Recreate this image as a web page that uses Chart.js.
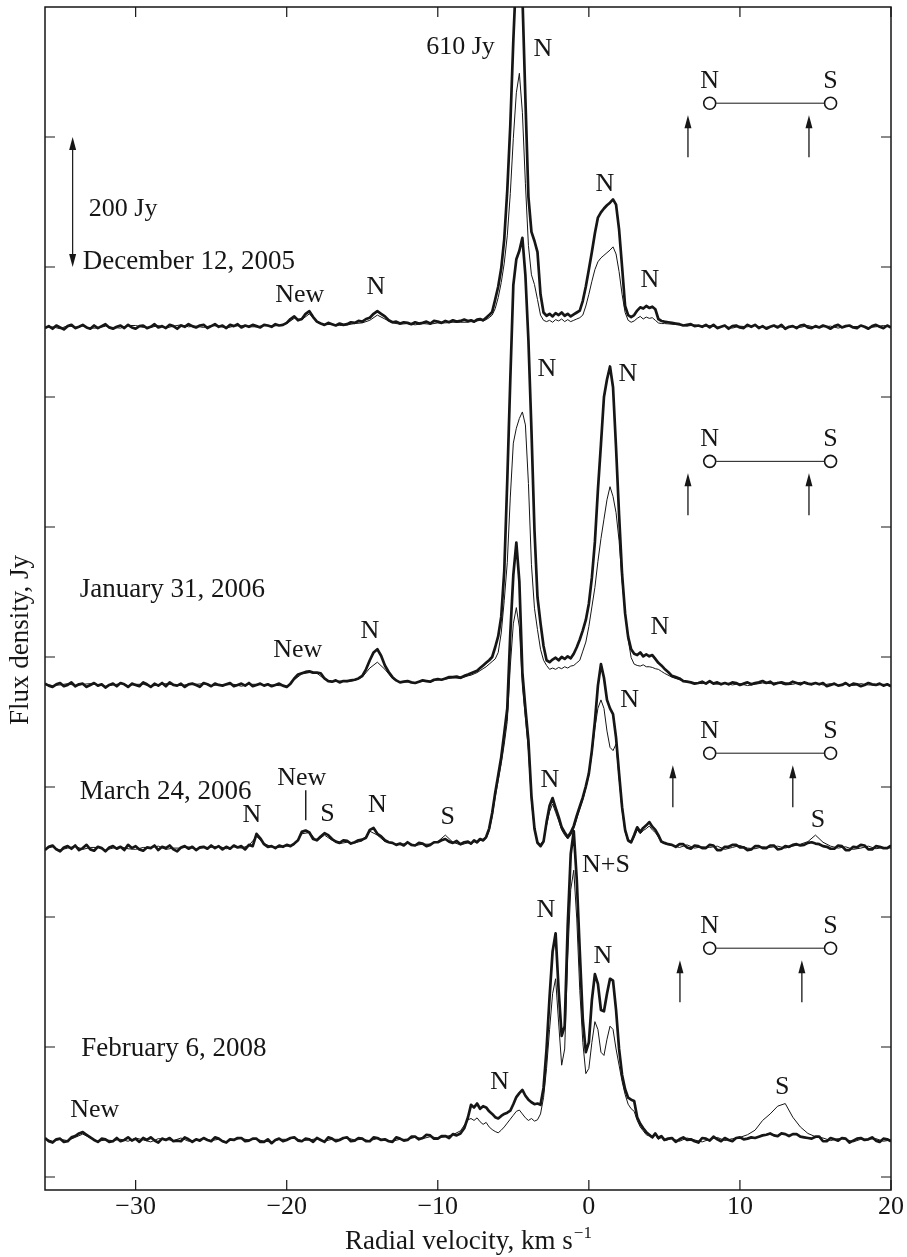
<!DOCTYPE html>
<html lang="en">
<head>
  <meta charset="UTF-8">
  <title>Water maser spectra</title>
  <script src="https://cdn.jsdelivr.net/npm/chart.js@4.4.1/dist/chart.umd.min.js"></script>
  <style>
    html, body { margin: 0; padding: 0; background: #fff; }
    #chart { display: block; }
  </style>
</head>
<body>
  <canvas id="chart" width="907" height="1257"></canvas>
  <script>
    // velocity grid for the thick traces, km/s (0.25 on the wings, 0.2 across the core)
    const velocityFine = [
      -36, -35.75, -35.5, -35.25, -35, -34.75, -34.5, -34.25,
      -34, -33.75, -33.5, -33.25, -33, -32.75, -32.5, -32.25,
      -32, -31.75, -31.5, -31.25, -31, -30.75, -30.5, -30.25,
      -30, -29.75, -29.5, -29.25, -29, -28.75, -28.5, -28.25,
      -28, -27.75, -27.5, -27.25, -27, -26.75, -26.5, -26.25,
      -26, -25.75, -25.5, -25.25, -25, -24.75, -24.5, -24.25,
      -24, -23.75, -23.5, -23.25, -23, -22.75, -22.5, -22.25,
      -22, -21.75, -21.5, -21.25, -21, -20.75, -20.5, -20.25,
      -20, -19.75, -19.5, -19.25, -19, -18.75, -18.5, -18.25,
      -18, -17.75, -17.5, -17.25, -17, -16.75, -16.5, -16.25,
      -16, -15.75, -15.5, -15.25, -15, -14.75, -14.5, -14.25,
      -14, -13.75, -13.5, -13.25, -13, -12.75, -12.5, -12.25,
      -12, -11.75, -11.5, -11.25, -11, -10.75, -10.5, -10.25,
      -10, -9.75, -9.5, -9.25, -9, -8.75, -8.5, -8.25,
      -8, -7.8, -7.6, -7.4, -7.2, -7, -6.8, -6.6, -6.4, -6.2,
      -6, -5.8, -5.6, -5.4, -5.2, -5, -4.8, -4.6, -4.4, -4.2,
      -4, -3.8, -3.6, -3.4, -3.2, -3, -2.8, -2.6, -2.4, -2.2,
      -2, -1.8, -1.6, -1.4, -1.2, -1, -0.8, -0.6, -0.4, -0.2,
      0, 0.2, 0.4, 0.6, 0.8, 1, 1.2, 1.4, 1.6, 1.8,
      2, 2.2, 2.4, 2.6, 2.8, 3, 3.2, 3.4, 3.6, 3.8,
      4, 4.2, 4.4, 4.6, 4.8, 5,
      5.25, 5.5, 5.75, 6, 6.25, 6.5, 6.75, 7,
      7.25, 7.5, 7.75, 8, 8.25, 8.5, 8.75, 9,
      9.25, 9.5, 9.75, 10, 10.25, 10.5, 10.75, 11,
      11.25, 11.5, 11.75, 12, 12.25, 12.5, 12.75, 13,
      13.25, 13.5, 13.75, 14, 14.25, 14.5, 14.75, 15,
      15.25, 15.5, 15.75, 16, 16.25, 16.5, 16.75, 17,
      17.25, 17.5, 17.75, 18, 18.25, 18.5, 18.75, 19,
      19.25, 19.5, 19.75, 20
    ];

    // velocity grid for the thin traces, km/s
    const velocityCoarse = [
      -36, -35.5, -35, -34.5, -34, -33.5, -33, -32.5, -32, -31.5,
      -31, -30.5, -30, -29.5, -29, -28.5, -28, -27.5, -27, -26.5,
      -26, -25.5, -25, -24.5, -24, -23.5, -23, -22.5, -22, -21.5,
      -21, -20.5, -20, -19.5, -19, -18.5, -18, -17.5, -17, -16.5,
      -16, -15.5, -15, -14.5, -14, -13.5, -13, -12.5, -12, -11.5,
      -11, -10.5, -10, -9.5, -9, -8.5,
      -8, -7.8, -7.6, -7.4, -7.2, -7, -6.8, -6.6, -6.4, -6.2,
      -6, -5.8, -5.6, -5.4, -5.2, -5, -4.8, -4.6, -4.4, -4.2,
      -4, -3.8, -3.6, -3.4, -3.2, -3, -2.8, -2.6, -2.4, -2.2,
      -2, -1.8, -1.6, -1.4, -1.2, -1, -0.8, -0.6, -0.4, -0.2,
      0, 0.2, 0.4, 0.6, 0.8, 1, 1.2, 1.4, 1.6, 1.8,
      2, 2.2, 2.4, 2.6, 2.8, 3, 3.2, 3.4, 3.6, 3.8,
      4, 4.2, 4.4, 4.6, 4.8, 5,
      5.5, 6, 6.5, 7, 7.5, 8, 8.5, 9, 9.5, 10,
      10.5, 11, 11.5, 12, 12.5, 13, 13.5, 14, 14.5, 15,
      15.5, 16, 16.5, 17, 17.5, 18, 18.5, 19, 19.5, 20
    ];

    // flux density, Jy -- thick traces on velocityFine
    const dec05Thick = [
      -2, 1, -3, 2, -1, -4, 1, 3,
      -2, 0, 3, -1, -3, 2, -2, 1,
      4, -1, -3, 0, 2, -2, 3, -1,
      -3, 1, 2, -2, 0, 4, -1, 1,
      -2, 3, 1, -3, 2, 0, 4, 1,
      -1, 2, 3, -2, 1, 4, 0, 2,
      -2, 3, 1, 4, -1, 2, 0, 3,
      1, -1, 3, 2, 0, 4, 2, 3,
      6, 12, 16, 10, 12, 20, 24, 15,
      8, 5, 3, 6, 4, 2, 5, 3,
      4, 7, 6, 9, 8, 12, 14, 20,
      24, 20, 16, 10, 7, 8, 5, 7,
      6, 4, 7, 5, 6, 8, 5, 9,
      8, 6, 9, 7, 10, 8, 9, 11,
      9, 10, 8, 11, 12, 10, 14, 18, 23, 42,
      62, 90, 135, 210, 310, 440, 550, 610, 510, 350,
      200, 146, 132, 115, 50, 22, 17, 20, 16, 21,
      18, 22, 17, 20, 16, 19, 22, 25, 40, 62,
      88, 115, 144, 168, 176, 182, 187, 191, 196, 188,
      150, 92, 32, 18, 15, 18, 25, 30, 28, 32,
      29, 31, 27, 12, 9, 8,
      7, 6, 5, 4, 2, 3, 4, 1,
      2, 0, 3, -1, 3, -2, 0, 2,
      -3, 1, 2, -1, -2, 3, 0, 3,
      -2, 1, -3, 0, 2, -1, 3, -3,
      0, 1, -2, 2, 3, -1, -2, 1,
      -1, 2, 0, -3, 1, 3, -1, 1,
      2, -1, -2, 2, 0, -3, 1, 3,
      0, -2, 2, -1
    ];
    const jan06Thick = [
      2, -1, -3, 1, 3, -2, 0, 4,
      -2, 1, 2, -3, 0, 3, -1, 1,
      -4, 0, 2, -2, 3, 1, -3, 2,
      0, -2, 4, 1, -3, 2, -1, 3,
      -2, 4, 0, -1, 2, -3, 1, 2,
      0, -3, 3, 1, -2, 2, 0, -1,
      1, 3, -2, 0, 2, -1, 3, -2,
      0, 2, -1, 1, -2, 0, 2, -1,
      -3, 2, 10, 16, 18, 20, 21, 19,
      19, 18, 10, 6, 5, 7, 4, 6,
      6, 7, 8, 10, 14, 24, 38, 50,
      55, 45, 30, 20, 12, 7, 4, 5,
      6, 4, 3, 5, 7, 6, 5, 8,
      9, 8, 10, 12, 12, 13, 11, 14,
      16, 18, 20, 22, 26, 30, 34, 38, 43, 58,
      75, 105, 175, 315, 470, 615, 655, 668, 688, 630,
      530, 392, 238, 135, 95, 60, 38, 35, 39, 42,
      38, 43, 40, 44, 41, 48, 58, 70, 84, 100,
      125, 165, 220, 300, 370, 443, 470, 490, 458, 365,
      262, 170, 110, 74, 55, 48, 46, 50, 44, 47,
      44, 46, 40, 34, 30, 25,
      20, 14, 12, 10, 6, 5, 4, 2,
      3, 5, 2, 6, 2, 4, 1, 3,
      1, 4, 3, 0, 2, 4, 1, 3,
      4, 6, 3, 5, 1, 3, 4, 2,
      2, 5, 3, 1, 4, 2, 1, 3,
      1, 3, -2, 0, 2, -1, 0, 3,
      -1, 2, 1, -2, 0, 3, 1, 0,
      2, -1, 1, -2
    ];
    const mar06Thick = [
      -3, 2, 4, -2, -5, 1, 3, -1,
      4, -3, 0, 5, -2, -4, 2, 0,
      -5, 1, 3, -1, 2, -3, 5, 0,
      3, -2, -4, 1, 0, 4, -3, 2,
      0, 4, -2, -5, 1, 3, -1, 2,
      -3, 1, 2, -1, 4, 0, 3, -2,
      2, -1, 4, 1, 3, -2, 5, 3,
      22, 15, 6, 2, 3, 0, 4, 2,
      5, 3, 7, 12, 25, 27, 24, 14,
      12, 18, 23, 20, 14, 10, 8, 12,
      11, 7, 9, 12, 13, 16, 28, 31,
      22, 18, 12, 9, 8, 5, 7, 4,
      9, 5, 4, 8, 7, 3, 5, 9,
      9, 12, 14, 10, 8, 11, 6, 9,
      10, 7, 12, 9, 14, 12, 17, 30, 54, 85,
      112, 140, 177, 215, 330, 420, 470, 410, 270, 215,
      165, 80, 30, 8, 3, 10, 40, 65, 77, 62,
      48, 32, 24, 17, 24, 34, 50, 64, 78, 95,
      115, 150, 195, 250, 283, 262, 228, 215, 206, 170,
      115, 63, 28, 12, 9, 20, 32, 25, 31, 35,
      40, 33, 28, 20, 10, 8,
      6, 5, 2, 6, 6, 1, -1, 4,
      3, 0, 0, 5, 4, -3, -3, 2,
      2, 5, 5, 1, 1, -3, -2, 3,
      3, 0, 0, 4, 4, -2, -1, 3,
      2, 5, 6, 4, 5, 8, 9, 7,
      6, 3, 2, -1, -1, 4, 3, -3,
      -3, 2, 1, 5, 4, -2, -2, 3,
      2, 0, 0, 4
    ];
    const feb08Thick = [
      3, -2, -4, 1, 2, -3, -2, 4,
      6, 10, 12, 8, 4, 0, -3, 2,
      1, -3, -2, 3, -2, 0, 4, -1,
      2, -3, 3, 0, 4, -1, -4, 2,
      0, 3, -2, -1, -2, 4, 1, -3,
      1, -1, 3, 0, -2, 4, 2, -2,
      -4, 1, 0, 3, 3, -2, -1, 2,
      2, -3, -3, 1, -5, 0, 2, -2,
      0, 3, 4, -1, -2, 2, 1, -3,
      3, 0, -3, 4, 2, -2, 0, 3,
      4, -2, -1, 3, 2, -2, -2, 4,
      3, 0, 1, -2, -3, 4, 2, -1,
      0, 5, 5, 1, 3, 8, 7, 2,
      2, 6, 6, 3, 9, 7, 10, 18,
      35, 54, 50, 56, 48, 52, 50, 44, 40, 35,
      33, 37, 40, 42, 45, 55, 66, 72, 77, 68,
      62, 58, 55, 56, 54, 80, 140, 220, 290, 318,
      230, 160, 175, 330, 440, 475, 400, 290, 185, 135,
      150, 215, 255, 240, 200, 198, 225, 248, 245, 200,
      140, 100, 78, 65, 62, 60, 35, 25, 18, 12,
      8, 4, 10, 3, 6, 0,
      2, 3, -3, 1, 4, 0, 1, -2,
      -4, 3, 2, -1, 5, 1, -2, 3,
      0, -2, 3, 4, 1, 2, 4, 3,
      5, 7, 8, 10, 7, 6, 10, 9,
      6, 9, 9, 5, 4, 3, 2, 5,
      5, -2, -2, 3, 1, -1, 3, 2,
      -4, -1, 2, 3, 0, 1, 4, -1,
      -3, 2, 1, -2
    ];

    // flux density, Jy -- thin traces on velocityCoarse
    const dec05Thin = [
      -1, 0, -3, 2, -1, 1, -2, -2, 1, -1,
      -2, 2, 2, -1, -1, 2, -2, 1, 3, 0,
      1, -1, 2, 1, -2, 1, 2, 0, 0, 2,
      1, 2, 5, 13, 11, 20, 7, 3, 4, 2,
      3, 5, 6, 10, 18, 12, 6, 4, 5, 3,
      5, 4, 6, 6, 7, 7,
      7, 8, 7, 9, 10, 9, 11, 14, 18, 28,
      45, 68, 98, 140, 205, 290, 360, 390, 330, 220,
      125, 80, 65, 42, 18, 10, 8, 10, 7, 11,
      9, 12, 8, 11, 8, 10, 12, 14, 18, 32,
      50, 70, 88, 100, 106, 110, 114, 118, 123, 112,
      85, 50, 22, 10, 7, 9, 13, 16, 12, 15,
      13, 14, 10, 6, 5, 5,
      4, 3, 1, 3, 0, 2, -1, 1, -2, 1,
      0, 2, -1, 0, 1, -2, 1, -1, 2, -1,
      0, 1, -2, 1, 0, 1, -1, 0, 2, 0
    ];
    const jan06Thin = [
      1, -1, 0, 2, -1, 1, 2, 0, -2, 0,
      2, -1, 1, 1, -2, 0, 2, 0, -1, 1,
      1, 2, -1, 0, 0, 1, -2, 1, 1, 0,
      0, -1, -2, 8, 17, 19, 18, 9, 5, 6,
      5, 7, 12, 26, 35, 24, 10, 4, 5, 3,
      6, 5, 8, 9, 11, 10,
      14, 15, 17, 19, 22, 25, 28, 32, 36, 40,
      50, 80, 130, 188, 289, 372, 395, 410, 420, 400,
      310, 185, 118, 85, 55, 38, 30, 24, 26, 24,
      27, 25, 28, 26, 29, 30, 34, 38, 52, 66,
      90, 120, 150, 190, 225, 255, 285, 305, 290, 265,
      222, 160, 111, 70, 42, 32, 30, 29, 31, 28,
      28, 27, 25, 24, 21, 18,
      12, 8, 5, 3, 2, 4, 1, 3, 0, 2,
      -1, 1, 3, 2, 4, 0, 1, 4, 2, 3,
      0, 2, -1, 1, -1, 2, 0, 0, 1, -1
    ];
    const mar06Thin = [
      -1, 2, -3, 0, 3, -2, 1, 1, -3, 0,
      2, -1, -2, 1, 1, 3, -2, 0, 0, 2,
      -2, 1, 1, 3, -1, 2, 0, 4, 18, 7,
      2, 1, 3, 5, 22, 24, 11, 20, 12, 7,
      9, 8, 11, 26, 20, 10, 7, 5, 8, 4,
      6, 6, 10, 20, 9, 5,
      8, 6, 10, 8, 12, 11, 15, 26, 48, 78,
      104, 130, 160, 195, 280, 345, 370, 340, 250, 200,
      150, 72, 28, 10, 6, 12, 35, 56, 68, 55,
      42, 28, 20, 14, 20, 30, 45, 60, 74, 92,
      112, 145, 185, 215, 228, 215, 180, 155, 150, 160,
      108, 58, 25, 10, 8, 17, 28, 22, 27, 30,
      34, 28, 24, 17, 9, 7,
      4, 1, 5, 0, 2, 1, 3, -2, 1, 4,
      0, -1, 2, 1, 3, 0, 3, 6, 10, 20,
      9, 3, 0, 2, -2, 0, 3, -1, 1, 0
    ];
    const feb08Thin = [
      2, -2, 1, -1, 4, 9, 3, -2, 0, -1,
      1, -2, 3, 0, -3, 2, 1, -1, 3, -2,
      0, 2, -1, 1, -3, 1, 2, 0, 1, -2,
      -3, 1, 1, 3, -1, 0, 2, -2, 1, 1,
      3, 0, 1, -1, 2, 0, -2, 1, 1, 4,
      2, 5, 3, 5, 8, 14,
      31, 33, 30, 34, 28, 24, 27, 20, 16, 13,
      11, 15, 20, 26, 32, 38, 44, 46, 40, 34,
      30, 33, 29, 31, 40, 65, 110, 170, 225, 248,
      180, 115, 140, 280, 385, 415, 340, 230, 150, 102,
      110, 150, 182, 170, 135, 130, 155, 175, 170, 140,
      115, 90, 70, 55, 48, 44, 30, 20, 14, 8,
      6, 3, 8, 1, 4, -1,
      2, -2, 3, 0, -3, 1, 4, -1, 2, 4,
      8, 15, 30, 40, 52, 56, 35, 20, 10, 5,
      3, -1, 2, 1, -3, 1, 1, 2, -2, 0
    ];

    // vertical shift of each spectrum, Jy
    const epochs = ['December 12, 2005', 'January 31, 2006', 'March 24, 2006', 'February 6, 2008'];
    const offsets = [1308, 757, 506, 57];
    const thickSeries = [dec05Thick, jan06Thick, mar06Thick, feb08Thick];
    const thinSeries = [dec05Thin, jan06Thin, mar06Thin, feb08Thin];

    const xTicks = [-30, -20, -10, 0, 10, 20];
    const yTicks = [0, 200, 400, 600, 800, 1000, 1200, 1400, 1600, 1800];

    // text annotations: [text, velocity, flux level]
    const peakLabels = [
      ['610 Jy', -8.5, 1741], ['N', -3.05, 1738], ['N', 1.06, 1531], ['N', 4.04, 1383],
      ['New', -19.14, 1360], ['N', -14.1, 1372],
      ['N', -2.78, 1246], ['N', 2.58, 1238], ['N', 4.7, 849], ['New', -19.27, 814], ['N', -14.5, 843],
      ['N', -22.3, 560], ['New', -19.0, 617], ['S', -17.3, 561], ['N', -14.0, 575], ['S', -9.34, 557],
      ['N', -2.58, 614], ['N', 2.7, 737], ['S', 15.17, 552],
      ['New', -32.7, 106], ['N', -5.9, 149], ['N', -2.85, 414], ['N+S', 1.13, 483], ['N', 0.93, 343],
      ['S', 12.8, 142]
    ];
    const epochLabelPos = [[-33.5, 1411], [-33.7, 906], [-33.7, 595], [-33.6, 200]];

    // N-S schematic per epoch: circle level (Jy) and velocity of the two arrows
    const sketchLevels = [1652, 1101, 652, 352];
    const sketchArrows = [[6.56, 14.57], [6.56, 14.57], [5.56, 13.5], [6.03, 14.1]];
    const sketchCircles = [8.0, 16.0];

    const FONT = '"Liberation Serif", "Times New Roman", serif';
    const INK = '#161616';

    const datasets = [];
    thickSeries.forEach((s, i) => {
      if (s.length !== velocityFine.length) console.error('thick length', i, s.length);
      datasets.push({
        label: epochs[i] + ' (thick)',
        data: velocityFine.map((v, k) => ({ x: v, y: s[k] + offsets[i] })),
        borderColor: INK, borderWidth: 2.7, order: 0
      });
    });
    thinSeries.forEach((s, i) => {
      if (s.length !== velocityCoarse.length) console.error('thin length', i, s.length);
      datasets.push({
        label: epochs[i] + ' (thin)',
        data: velocityCoarse.map((v, k) => ({ x: v, y: s[k] + offsets[i] })),
        borderColor: INK, borderWidth: 1, order: 1
      });
    });

    function upArrow(ctx, x, tail, tip) {
      const dir = tip < tail ? -1 : 1;
      ctx.beginPath();
      ctx.moveTo(x, tail);
      ctx.lineTo(x, tip - dir * 8);
      ctx.stroke();
      ctx.beginPath();
      ctx.moveTo(x, tip);
      ctx.lineTo(x - 3.5, tip - dir * 13);
      ctx.lineTo(x + 3.5, tip - dir * 13);
      ctx.closePath();
      ctx.fill();
    }

    const decor = {
      id: 'decor',
      afterDatasetsDraw(chart) {
        const { ctx, chartArea: a, scales: { x, y } } = chart;
        ctx.save();
        ctx.strokeStyle = INK;
        ctx.fillStyle = INK;

        // frame
        ctx.lineWidth = 1.5;
        ctx.strokeRect(a.left, a.top, a.right - a.left, a.bottom - a.top);

        // inward tick marks on all four sides
        ctx.lineWidth = 1.2;
        ctx.beginPath();
        xTicks.forEach(v => {
          const px = x.getPixelForValue(v);
          ctx.moveTo(px, a.bottom); ctx.lineTo(px, a.bottom - 10);
          ctx.moveTo(px, a.top); ctx.lineTo(px, a.top + 10);
        });
        yTicks.forEach(v => {
          if (v >= y.max) return;
          const py = y.getPixelForValue(v);
          ctx.moveTo(a.left, py); ctx.lineTo(a.left + 10, py);
          ctx.moveTo(a.right, py); ctx.lineTo(a.right - 10, py);
        });
        ctx.stroke();

        // 200 Jy scale bar
        const bx = x.getPixelForValue(-34.17);
        const b0 = y.getPixelForValue(1400), b1 = y.getPixelForValue(1600);
        ctx.lineWidth = 1.2;
        ctx.beginPath(); ctx.moveTo(bx, b0 - 10); ctx.lineTo(bx, b1 + 10); ctx.stroke();
        [[b1, 1], [b0, -1]].forEach(([p, d]) => {
          ctx.beginPath();
          ctx.moveTo(bx, p);
          ctx.lineTo(bx - 3.5, p + d * 13);
          ctx.lineTo(bx + 3.5, p + d * 13);
          ctx.closePath(); ctx.fill();
        });

        // labels
        ctx.textAlign = 'center';
        ctx.textBaseline = 'alphabetic';
        ctx.font = '26px ' + FONT;
        peakLabels.forEach(([t, v, f]) => {
          ctx.fillText(t, x.getPixelForValue(v), y.getPixelForValue(f) + 9);
        });
        ctx.textAlign = 'left';
        ctx.fillText('200 Jy', x.getPixelForValue(-33.1), y.getPixelForValue(1492) + 9);
        ctx.font = '27px ' + FONT;
        epochLabelPos.forEach(([v, f], i) => {
          ctx.fillText(epochs[i], x.getPixelForValue(v), y.getPixelForValue(f) + 9);
        });

        // marker under "New" in March 2006
        ctx.lineWidth = 1.4;
        const mx = x.getPixelForValue(-18.74);
        ctx.beginPath();
        ctx.moveTo(mx, y.getPixelForValue(595));
        ctx.lineTo(mx, y.getPixelForValue(549));
        ctx.stroke();

        // N-S schematics
        ctx.font = '26px ' + FONT;
        ctx.textAlign = 'center';
        sketchLevels.forEach((lvl, i) => {
          const cy = y.getPixelForValue(lvl);
          const cx0 = x.getPixelForValue(sketchCircles[0]);
          const cx1 = x.getPixelForValue(sketchCircles[1]);
          ctx.lineWidth = 1;
          ctx.beginPath(); ctx.moveTo(cx0 + 6.5, cy); ctx.lineTo(cx1 - 6.5, cy); ctx.stroke();
          ctx.lineWidth = 1.6;
          [cx0, cx1].forEach(cx => {
            ctx.beginPath(); ctx.arc(cx, cy, 6, 0, Math.PI * 2); ctx.stroke();
          });
          ctx.fillText('N', cx0, cy - 15);
          ctx.fillText('S', cx1, cy - 15);
          ctx.lineWidth = 1.3;
          sketchArrows[i].forEach(v => {
            upArrow(ctx, x.getPixelForValue(v), cy + 54, cy + 12);
          });
        });

        // x axis title with superscript
        const main = 'Radial velocity, km s';
        ctx.font = '27px ' + FONT;
        const w1 = ctx.measureText(main).width;
        ctx.font = '17px ' + FONT;
        const w2 = ctx.measureText('\u22121').width;
        const cx = (a.left + a.right) / 2;
        const ty = 1249;
        ctx.textAlign = 'left';
        ctx.font = '27px ' + FONT;
        ctx.fillText(main, cx - (w1 + w2) / 2, ty);
        ctx.font = '17px ' + FONT;
        ctx.fillText('\u22121', cx - (w1 + w2) / 2 + w1 + 1, ty - 11);

        // y axis title
        ctx.save();
        ctx.translate(28, 640);
        ctx.rotate(-Math.PI / 2);
        ctx.textAlign = 'center';
        ctx.font = '27px ' + FONT;
        ctx.fillText('Flux density, Jy', 0, 0);
        ctx.restore();

        ctx.restore();
      }
    };

    new Chart(document.getElementById('chart'), {
      type: 'line',
      data: { datasets },
      options: {
        responsive: false,
        devicePixelRatio: 1,
        animation: false,
        events: [],
        layout: { padding: { top: 7, right: 16, left: 0, bottom: 0 } },
        elements: {
          point: { radius: 0 },
          line: { tension: 0, borderJoinStyle: 'round', fill: false }
        },
        plugins: { legend: { display: false }, tooltip: { enabled: false } },
        scales: {
          x: {
            type: 'linear', min: -36, max: 20,
            grid: { display: false, drawTicks: false },
            border: { display: false },
            afterBuildTicks: s => { s.ticks = xTicks.map(v => ({ value: v })); },
            afterFit: s => { s.height = 67; },
            ticks: {
              color: INK, padding: 2,
              font: { family: FONT, size: 26 },
              callback: v => String(v).replace('-', '\u2212')
            }
          },
          y: {
            type: 'linear', min: -20, max: 1800,
            grid: { display: false, drawTicks: false },
            border: { display: false },
            afterBuildTicks: s => { s.ticks = yTicks.map(v => ({ value: v })); },
            afterFit: s => { s.width = 45; },
            ticks: { display: false }
          }
        }
      },
      plugins: [decor]
    });
  </script>
</body>
</html>
